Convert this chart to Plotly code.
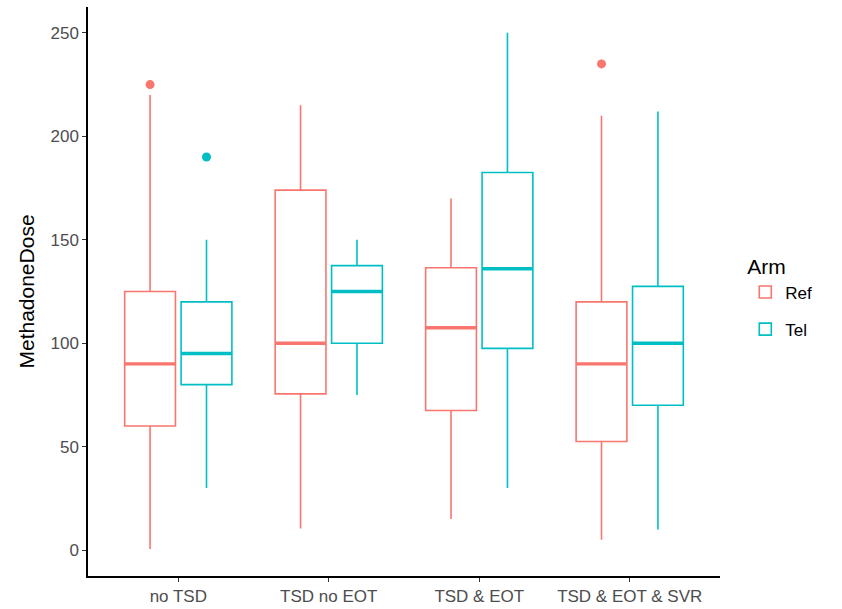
import plotly.graph_objects as go

categories = ["no TSD", "TSD no EOT", "TSD & EOT", "TSD & EOT & SVR"]
arms = ["Ref", "Tel"]

# stats per arm, per category
ref_lower = [0.5, 10.5, 15, 5]
ref_q1 = [60, 75.5, 67.5, 52.5]
ref_median = [90, 100, 107.5, 90]
ref_q3 = [125, 174, 136.5, 120]
ref_upper = [220, 215, 170, 210]
ref_outliers = [[225], [], [], [235]]

tel_lower = [30, 75, 30, 10]
tel_q1 = [80, 100, 97.5, 70]
tel_median = [95, 125, 136, 100]
tel_q3 = [120, 137.5, 182.5, 127.5]
tel_upper = [150, 150, 250, 212]
tel_outliers = [[190], [], [], []]

colors = {"Ref": "#F8766D", "Tel": "#00BFC4"}
stats = {
    "Ref": (ref_lower, ref_q1, ref_median, ref_q3, ref_upper, ref_outliers),
    "Tel": (tel_lower, tel_q1, tel_median, tel_q3, tel_upper, tel_outliers),
}

dodge = 0.1875
bw = 0.3375
pos = list(range(1, len(categories) + 1))

fig = go.Figure()
for k, arm in enumerate(arms):
    lo, q1, med, q3, up, outs = stats[arm]
    off = -dodge if k == 0 else dodge
    xs = [p + off for p in pos]
    fig.add_trace(go.Box(
        x=xs, q1=q1, median=med, q3=q3, lowerfence=lo, upperfence=up,
        name=arm, width=bw, whiskerwidth=0,
        line=dict(color=colors[arm], width=1.6),
        fillcolor="rgba(255,255,255,0)",
        boxpoints=False, showlegend=True, legendgroup=arm,
        hoverinfo="skip",
    ))
    # thick median segments
    mx, my = [], []
    for x, m in zip(xs, med):
        mx += [x - bw / 2, x + bw / 2, None]
        my += [m, m, None]
    fig.add_trace(go.Scatter(x=mx, y=my, mode="lines",
                             line=dict(color=colors[arm], width=3.4),
                             showlegend=False, hoverinfo="skip"))
    ox, oy = [], []
    for x, o in zip(xs, outs):
        for v in o:
            ox.append(x)
            oy.append(v)
    fig.add_trace(go.Scatter(x=ox, y=oy, mode="markers",
                             marker=dict(color=colors[arm], size=9),
                             showlegend=False, hoverinfo="skip"))

fig.update_layout(
    width=842, height=609,
    margin=dict(l=88, r=122, t=7, b=33),
    plot_bgcolor="white", paper_bgcolor="white",
    font=dict(family="Liberation Sans, Arial, sans-serif", color="black"),
    legend=dict(title=dict(text="Arm", font=dict(size=21)),
                font=dict(size=17), x=1.04, xanchor="left",
                y=0.49, yanchor="middle", tracegroupgap=12),
    xaxis=dict(range=[0.4, 4.6], tickmode="array", tickvals=pos,
               ticktext=categories, showgrid=False, zeroline=False,
               showline=True, linecolor="black", linewidth=1.5,
               ticks="outside", ticklen=4, tickcolor="#333333", tickwidth=1.2,
               tickfont=dict(size=17, color="#4d4d4d"), automargin=False),
    yaxis=dict(range=[-12.5, 262.5], tickvals=[0, 50, 100, 150, 200, 250],
               showgrid=False, zeroline=False,
               showline=True, linecolor="black", linewidth=1.5,
               ticks="outside", ticklen=4, tickcolor="#333333", tickwidth=1.2,
               tickfont=dict(size=17, color="#4d4d4d"), automargin=False,
               title=dict(text="MethadoneDose", font=dict(size=21), standoff=10)),
)

fig.write_html("out.html")
